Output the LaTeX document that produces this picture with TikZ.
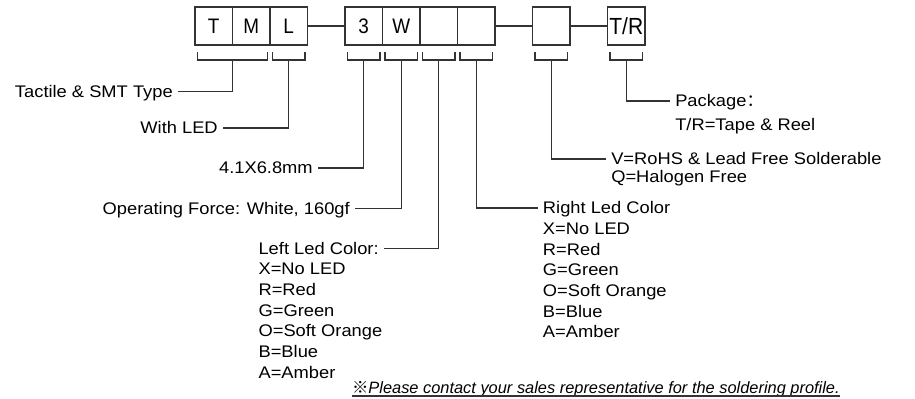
\documentclass[tikz,border=0pt]{standalone}
\usepackage{fontspec}
\setmainfont{Liberation Sans}[FakeStretch=1.09]
\newfontfamily\boxfont{Liberation Sans}[FakeStretch=0.9]
\newfontfamily\notefont{Liberation Sans}
\newfontfamily\cjk{Noto Sans CJK SC}
\usetikzlibrary{positioning, calc}
\definecolor{lineDark}{HTML}{333333}
\tikzset{
  digit/.style={draw=lineDark, line width=0.9pt, outer sep=0pt, inner sep=0pt, minimum width=28.125pt, minimum height=28.5pt, font=\boxfont\fontsize{15.75}{16}\selectfont},
  wire/.style={draw=lineDark, line width=0.9pt},
  brk/.style={draw=lineDark, line width=0.9pt},
  lbl/.style={inner xsep=3.75pt, inner ysep=0pt, text height=8.6pt, text depth=0pt, font=\fontsize{12.6}{15.5}\selectfont},
  opts/.style={inner xsep=3.75pt, inner ysep=0pt, align=left, font=\fontsize{12.6}{15.5}\selectfont},
}

\begin{document}
\begin{tikzpicture}[x=0.75pt, y=-0.75pt, node distance=28.125pt]
    \useasboundingbox (0,0) rectangle (915,399);
    % code boxes
    \node[digit] (T) at (213.75,26) {T};
    \node[digit, right=0pt of T] (M) {M};
    \node[digit, right=0pt of M] (L) {L};
    \node[digit, right=of L] (n3) {3};
    \node[digit, right=0pt of n3] (W) {W};
    \node[digit, right=0pt of W] (B1) {};
    \node[digit, right=0pt of B1] (B2) {};
    \node[digit, right=of B2] (B3) {};
    \node[digit, right=of B3, font=\boxfont\fontsize{17.5}{18}\selectfont] (TR) {T/R};
    \draw[wire] (L)--(n3); \draw[wire] (B2)--(B3); \draw[wire] (B3)--(TR);
    % brackets
    \foreach \a/\b/\n in {T/M/tm, L/L/led, n3/n3/sz, W/W/fc, B1/B1/lc, B2/B2/rc, B3/B3/rh, TR/TR/pk}{
      \draw[brk] ($(\a.south west)+(2.5,7)$) -- ($(\a.south west)+(2.5,15)$) -- ($(\b.south east)+(-2.5,15)$) -- ($(\b.south east)+(-2.5,7)$);
      \coordinate (c-\n) at ($(\a.south west)!0.5!(\b.south east)+(0,15)$);
    }
    % labels (a list node sits on the baseline of its last line)
    \node[lbl, anchor=east] (tactile) at (178,91.5) {Tactile \& SMT Type};
    \node[lbl, anchor=east] (withled) at (223,128) {With LED};
    \node[lbl, anchor=east] (size) at (318,168) {4.1X6.8mm};
    \node[lbl, anchor=east] (force) at (355,208.3) {Operating Force: White, 160gf};
    \node[lbl, anchor=west] (leftled) at (253.3,248.3) {Left Led Color:};
    \node[opts, anchor=base west] (leftopts) at ($(leftled.base west)+(0,124.2)$)
      {X=No LED\\R=Red\\G=Green\\O=Soft Orange\\B=Blue\\A=Amber};
    \node[lbl, anchor=west] (rightled) at (537.7,208) {Right Led Color};
    \node[opts, anchor=base west] (rightopts) at ($(rightled.base west)+(0,124.2)$)
      {X=No LED\\R=Red\\G=Green\\O=Soft Orange\\B=Blue\\A=Amber};
    \node[lbl, anchor=west] (rohs) at (606,159) {V=RoHS \& Lead Free Solderable};
    \node[opts, anchor=base west] (halogen) at ($(rohs.base west)+(0,18)$) {Q=Halogen Free};
    \node[lbl, anchor=west] (package) at (670,101) {Package{\cjk ：}};
    \node[opts, anchor=base west] (tape) at ($(package.base west)+(0,23.5)$) {T/R=Tape \& Reel};
    \node[inner sep=0pt, anchor=base east, font=\notefont\itshape\fontsize{12.3}{14}\selectfont] (note) at (840,393)
      {{\upshape\cjk ※}Please contact your sales representative for the soldering profile.};
    \draw[brk] ($(note.base west)+(0,3)$) -- ($(note.base east)+(0,3)$);
    % connectors
    \draw[wire] (c-tm) |- (tactile.east); \draw[wire] (c-led) |- (withled.east);
    \draw[wire] (c-sz) |- (size.east); \draw[wire] (c-fc) |- (force.east);
    \draw[wire] (c-lc) |- (leftled.east); \draw[wire] (c-rc) |- (rightled.west);
    \draw[wire] (c-rh) |- (rohs.west); \draw[wire] (c-pk) |- (package.west);
  \end{tikzpicture}
\end{document}
